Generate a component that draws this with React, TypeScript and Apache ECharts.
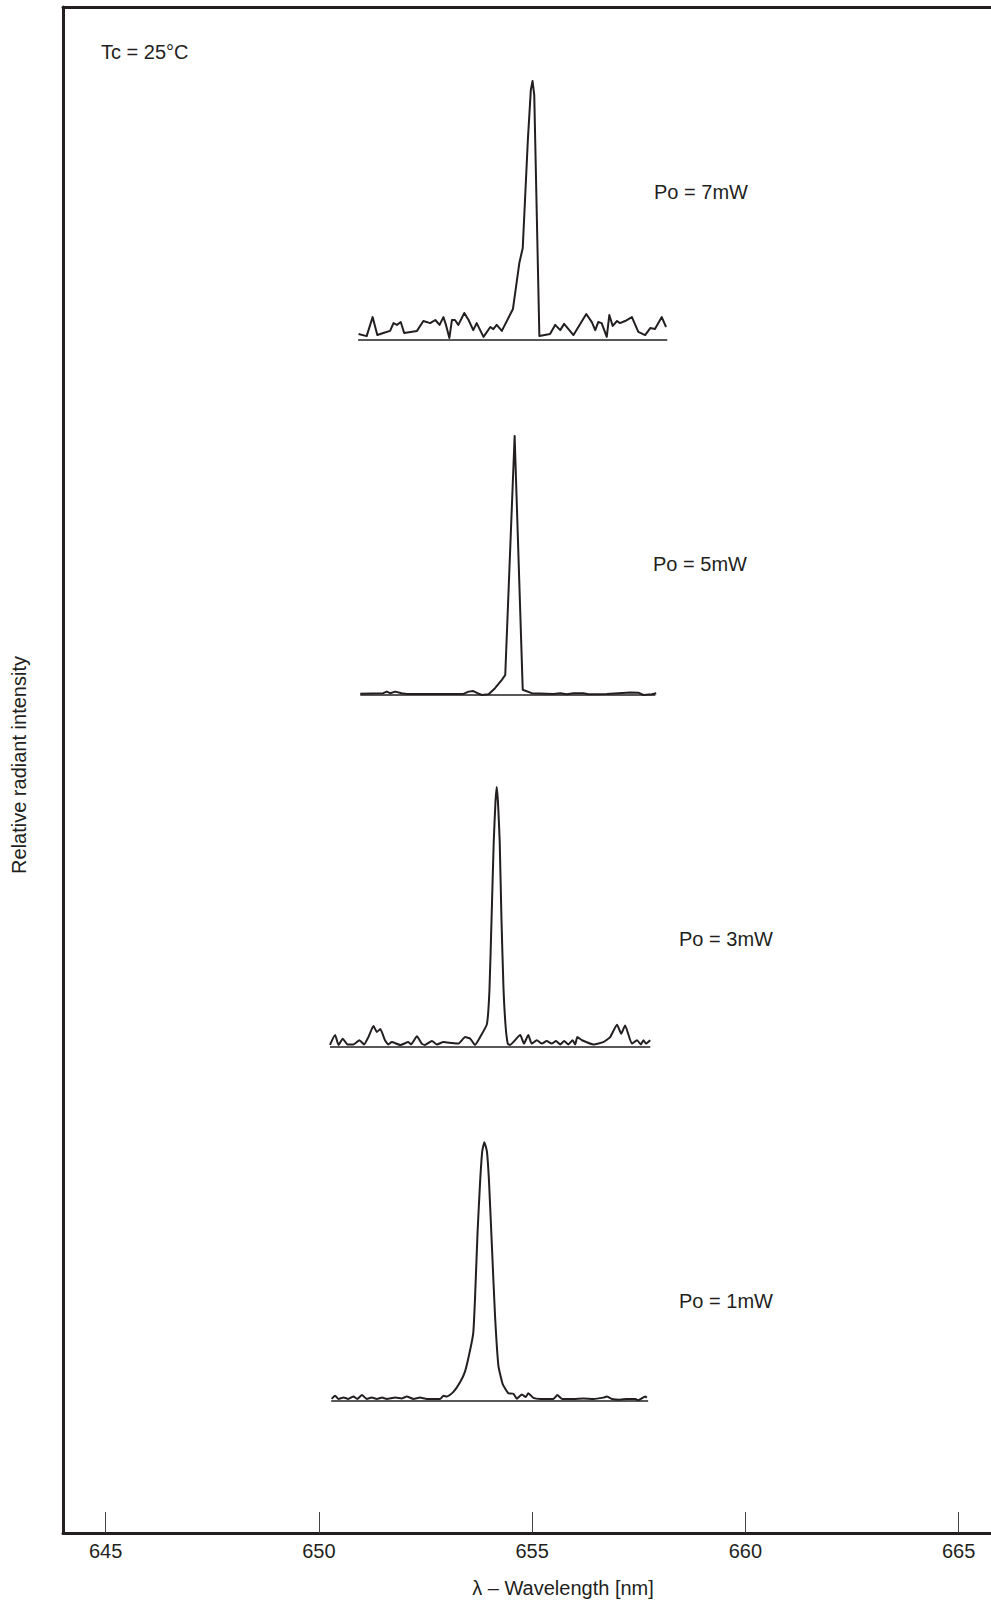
import React, { useEffect, useRef } from "react";
import * as echarts from "echarts";

// ---------- data ----------
const xTicks = [645, 650, 655, 660, 665];
const xMin = 644;
const xMax = 665.76;

// [wavelength nm, relative intensity %]
const spectrum7mW: [number, number][] = [
  [650.93, 2.3], [651.12, 1.5], [651.26, 8.8], [651.37, 1.9], [651.51, 2.7], [651.67, 3.5],
  [651.75, 6.5], [651.83, 5.8], [651.92, 6.9], [652.0, 2.7], [652.3, 3.5], [652.45, 7.3],
  [652.61, 6.5], [652.73, 7.7], [652.83, 5.8], [652.92, 8.8], [652.98, 5.8], [653.06, 0.8],
  [653.12, 7.7], [653.19, 7.7], [653.27, 5.8], [653.41, 10.4], [653.51, 7.7], [653.62, 3.8],
  [653.7, 6.5], [653.86, 1.2], [654.02, 5.0], [654.09, 4.2], [654.17, 5.8], [654.29, 3.5],
  [654.55, 11.9], [654.7, 29.6], [654.78, 35.4], [654.9, 76.9], [654.97, 96.2], [655.01, 99.6],
  [655.05, 94.2], [655.17, 1.5], [655.42, 2.3], [655.54, 5.8], [655.66, 3.8], [655.75, 6.2],
  [655.97, 1.9], [656.27, 10.0], [656.4, 6.9], [656.48, 3.8], [656.55, 6.9], [656.63, 6.5],
  [656.75, 1.2], [656.81, 9.6], [656.89, 5.4], [656.99, 7.3], [657.06, 6.5], [657.18, 7.3],
  [657.34, 8.8], [657.49, 3.1], [657.65, 1.9], [657.77, 4.6], [657.88, 4.2], [658.04, 8.8],
  [658.14, 5.0],
];
const spectrum5mW: [number, number][] = [
  [650.97, 0.5], [651.51, 0.7], [651.59, 1.3], [651.67, 0.7], [651.79, 1.3], [651.94, 0.7],
  [652.06, 0.4], [653.39, 0.4], [653.51, 1.3], [653.62, 1.5], [653.72, 0.7], [653.82, 0.0],
  [653.98, 0.3], [654.13, 2.6], [654.29, 5.8], [654.37, 7.7], [654.59, 99.6], [654.78, 2.0],
  [654.99, 0.7], [655.5, 0.4], [655.66, 0.7], [655.81, 0.3], [655.97, 0.7], [656.2, 0.7],
  [656.32, 0.3], [656.75, 0.4], [657.3, 1.0], [657.49, 0.9], [657.61, 0.0], [657.81, 0.3],
  [657.91, 0.7],
];
const spectrum3mW: [number, number][] = [
  [650.26, 0.8], [650.38, 4.6], [650.46, 0.8], [650.56, 3.2], [650.67, 1.0], [650.81, 1.0],
  [650.95, 2.6], [651.06, 1.0], [651.16, 3.8], [651.28, 8.1], [651.36, 5.8], [651.44, 6.9],
  [651.55, 2.6], [651.63, 1.0], [651.71, 1.9], [651.91, 0.8], [652.1, 1.9], [652.16, 1.0],
  [652.3, 4.1], [652.41, 1.3], [652.49, 0.8], [652.65, 2.3], [652.77, 1.0], [652.92, 1.9],
  [653.12, 1.5], [653.27, 1.3], [653.43, 3.8], [653.55, 3.2], [653.66, 0.8], [653.78, 3.8],
  [653.94, 8.8], [654.0, 22.0], [654.05, 50.0], [654.1, 79.0], [654.14, 94.0], [654.17, 100.0],
  [654.2, 94.0], [654.24, 79.0], [654.28, 50.0], [654.33, 22.0], [654.38, 7.7], [654.43, 1.2],
  [654.48, 0.8], [654.72, 4.6], [654.81, 1.3], [654.91, 4.6], [654.99, 1.3], [655.11, 2.6],
  [655.23, 1.3], [655.34, 2.3], [655.46, 1.3], [655.56, 2.3], [655.66, 1.0], [655.75, 2.3],
  [655.85, 1.0], [655.95, 2.6], [656.01, 1.0], [656.06, 3.8], [656.17, 2.6], [656.44, 1.0],
  [656.67, 1.9], [656.83, 3.8], [656.99, 8.6], [657.09, 5.1], [657.18, 8.3], [657.34, 1.3],
  [657.46, 2.6], [657.55, 1.0], [657.61, 2.6], [657.67, 1.3], [657.77, 2.6],
];
const spectrum1mW: [number, number][] = [
  [650.3, 0.8], [650.38, 2.0], [650.46, 0.8], [650.58, 1.3], [650.69, 0.8], [650.81, 1.7],
  [650.9, 0.8], [651.01, 2.3], [651.12, 0.8], [651.24, 1.3], [651.36, 0.8], [651.48, 1.3],
  [651.59, 0.8], [651.79, 1.3], [651.94, 1.0], [652.06, 1.7], [652.22, 0.8], [652.37, 1.3],
  [652.53, 0.8], [652.84, 0.8], [652.92, 2.0], [653.0, 1.7], [653.15, 3.4], [653.31, 7.2],
  [653.43, 11.5], [653.55, 19.9], [653.62, 26.2], [653.66, 39.0], [653.72, 64.6], [653.78, 84.2],
  [653.83, 96.0], [653.88, 99.5], [653.94, 96.0], [653.99, 84.2], [654.06, 58.5], [654.13, 32.9],
  [654.21, 13.5], [654.31, 6.5], [654.44, 3.0], [654.56, 2.8], [654.64, 0.9], [654.76, 2.5],
  [654.85, 1.5], [654.91, 3.0], [655.03, 1.2], [655.19, 0.8], [655.5, 0.8], [655.59, 2.3],
  [655.7, 0.8], [655.97, 0.8], [656.2, 1.0], [656.44, 0.8], [656.67, 1.3], [656.75, 1.7],
  [656.87, 0.8], [657.06, 0.5], [657.22, 0.8], [657.42, 0.8], [657.49, 0.3], [657.65, 1.7],
  [657.69, 1.3],
];

// wavelength span of each trace's zero line
const base7mW = [650.92, 658.17];
const base5mW = [650.97, 657.89];
const base3mW = [650.26, 657.77];
const base1mW = [650.29, 657.72];

const labels = ["Po = 7mW", "Po = 5mW", "Po = 3mW", "Po = 1mW"];
const tempLabel = "Tc = 25°C";
const xTitle = "λ – Wavelength [nm]";
const yTitle = "Relative radiant intensity";

// ---------- layout ----------
const W = 991;
const H = 1602;
const FL = 63;
const FT = 7;
const FB = 1533;
const panelBaseY = [340, 695, 1047, 1401];
const panelH = 286; // 0..110 %
const labelPos = [
  [654, 192],
  [653, 564],
  [679, 939],
  [679, 1301],
];
const INK = "#231f20";
const FONT = '"Liberation Sans", Arial, Helvetica, sans-serif';

export default function App() {
  const ref = useRef<HTMLDivElement>(null);
  useEffect(() => {
    if (!ref.current) return;
    const chart = echarts.init(ref.current, undefined, { renderer: "svg" });
    const spectra = [spectrum7mW, spectrum5mW, spectrum3mW, spectrum1mW];
    const bases = [base7mW, base5mW, base3mW, base1mW];

    const grids: any[] = [{ left: FL, top: FT, width: W - FL, height: FB - FT }];
    const xAxes: any[] = [
      {
        gridIndex: 0,
        type: "value",
        min: xMin,
        max: xMax,
        position: "bottom",
        axisLine: { show: true, onZero: false, lineStyle: { color: INK, width: 3 } },
        axisTick: {
          show: true,
          inside: true,
          length: 21,
          customValues: xTicks,
          lineStyle: { color: "#444", width: 1 },
        },
        axisLabel: {
          show: true,
          customValues: xTicks,
          fontSize: 20,
          color: INK,
          fontFamily: FONT,
          margin: 8,
        },
        splitLine: { show: false },
      },
      {
        gridIndex: 0,
        type: "value",
        min: xMin,
        max: xMax,
        position: "top",
        axisLine: { show: true, onZero: false, lineStyle: { color: INK, width: 3 } },
        axisTick: { show: false },
        axisLabel: { show: false },
        splitLine: { show: false },
      },
    ];
    const yAxes: any[] = [
      {
        gridIndex: 0,
        type: "value",
        min: 0,
        max: 1,
        axisLine: { show: true, onZero: false, lineStyle: { color: INK, width: 3 } },
        axisTick: { show: false },
        axisLabel: { show: false },
        splitLine: { show: false },
      },
    ];
    const series: any[] = [];
    spectra.forEach((data, i) => {
      const gi = i + 1;
      grids.push({ left: FL, top: panelBaseY[i] - panelH, width: W - FL, height: panelH });
      xAxes.push({ gridIndex: gi, type: "value", min: xMin, max: xMax, show: false });
      yAxes.push({ gridIndex: gi, type: "value", min: 0, max: 110, show: false });
      series.push({
        type: "line",
        xAxisIndex: i + 2,
        yAxisIndex: gi,
        data: bases[i].map((x) => [x, 0]),
        symbol: "none",
        silent: true,
        clip: false,
        lineStyle: { color: INK, width: 1.6 },
      });
      series.push({
        type: "line",
        name: labels[i],
        xAxisIndex: i + 2,
        yAxisIndex: gi,
        data,
        symbol: "none",
        clip: false,
        smooth: i >= 2 ? 0.15 : false,
        lineStyle: { color: INK, width: 2, join: "round" },
      });
    });

    const txt = (text: string, x: number, y: number, extra: any = {}) => ({
      type: "text",
      x,
      y,
      ...extra,
      style: {
        text,
        fill: INK,
        font: `20px ${FONT}`,
        align: extra.align || "left",
        verticalAlign: "middle",
      },
    });

    const graphic: any[] = [
      txt(tempLabel, 101, 52),
      ...labels.map((l, i) => txt(l, labelPos[i][0], labelPos[i][1])),
      txt(xTitle, 563, 1588, { align: "center" }),
      { ...txt(yTitle, 19, 765, { align: "center" }), rotation: Math.PI / 2 },
    ];

    chart.setOption({
      animation: false,
      backgroundColor: "#ffffff",
      grid: grids,
      xAxis: xAxes,
      yAxis: yAxes,
      series,
      graphic,
    });
    return () => chart.dispose();
  }, []);
  return (
    <div
      ref={ref}
      style={{ position: "absolute", left: 0, top: 0, width: W, height: H }}
    />
  );
}
